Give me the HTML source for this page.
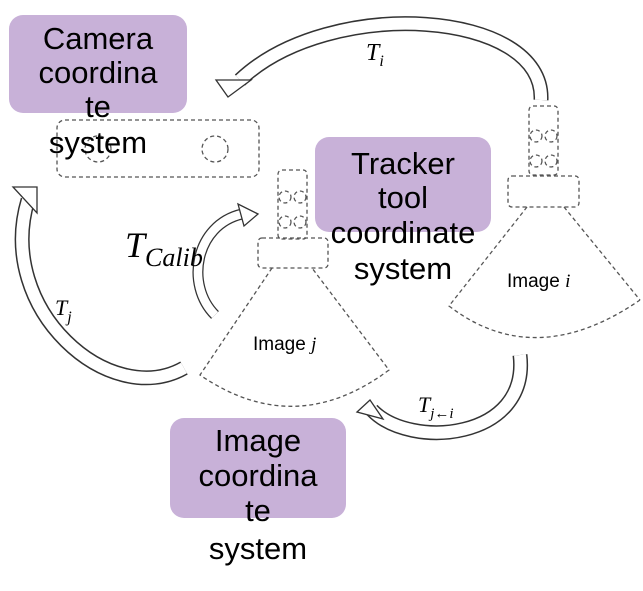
<!DOCTYPE html>
<html><head><meta charset="utf-8"><style>
html,body{margin:0;padding:0;background:#fff;}
svg{display:block;}
.lbl{font-family:"Liberation Sans",sans-serif;font-size:31px;fill:#000;text-anchor:middle;}
.m{font-family:"Liberation Serif",serif;font-style:italic;fill:#000;}
.d{fill:none;stroke:#555;stroke-width:1.3;stroke-dasharray:4 3;}
</style></head><body>
<svg width="643" height="591" viewBox="0 0 643 591" xmlns="http://www.w3.org/2000/svg">
<rect x="9" y="15" width="178" height="98" rx="14" fill="#c8b1d8"/>
<rect x="315" y="137" width="176" height="95" rx="14" fill="#c8b1d8"/>
<rect x="170" y="418" width="176" height="100" rx="14" fill="#c8b1d8"/>

<rect x="57" y="120" width="202" height="57" rx="8" class="d"/>
<circle cx="98" cy="149" r="13" class="d"/>
<circle cx="215" cy="149" r="13" class="d"/>

<rect x="529" y="106" width="29" height="69" rx="4" class="d"/>
<circle cx="536" cy="136" r="6" class="d"/><circle cx="551" cy="136" r="6" class="d"/>
<circle cx="536" cy="161" r="6" class="d"/><circle cx="551" cy="161" r="6" class="d"/>
<rect x="508" y="176" width="71" height="31" rx="4" class="d"/>
<path d="M527,207 L449,306 Q535,372 640,300 M564,207 L640,300" class="d"/>
<text x="507" y="287" font-family="Liberation Sans,sans-serif" font-size="19">Image <tspan font-family="Liberation Serif,serif" font-style="italic">i</tspan></text>

<rect x="278" y="170" width="29" height="69" rx="4" class="d"/>
<circle cx="285" cy="197" r="6" class="d"/><circle cx="300" cy="197" r="6" class="d"/>
<circle cx="285" cy="222" r="6" class="d"/><circle cx="300" cy="222" r="6" class="d"/>
<rect x="258" y="238" width="70" height="30" rx="4" class="d"/>
<path d="M272,268 L200,375 Q295,440 389,370 L312,268" class="d"/>
<text x="253" y="350" font-family="Liberation Sans,sans-serif" font-size="19">Image <tspan font-family="Liberation Serif,serif" font-style="italic">j</tspan></text>

<g fill="none" stroke-linecap="butt">
 <path d="M541,100 C545,10 330,-5 240,80" stroke="#333" stroke-width="15"/>
 <path d="M541,100 C545,10 330,-5 240,80" stroke="#fff" stroke-width="12"/>
 <path d="M184,368 C110,410 -5,310 28,200" stroke="#333" stroke-width="15"/>
 <path d="M184,368 C110,410 -5,310 28,200" stroke="#fff" stroke-width="12"/>
 <path d="M215,315 C185,285 195,225 242,214" stroke="#333" stroke-width="11"/>
 <path d="M215,315 C185,285 195,225 242,214" stroke="#fff" stroke-width="8.5"/>
 <path d="M520,355 C530,440 410,450 372,410" stroke="#333" stroke-width="15"/>
 <path d="M520,355 C530,440 410,450 372,410" stroke="#fff" stroke-width="12"/>
</g>
<polygon points="228,97 216,80 251,80" fill="#fff" stroke="#333" stroke-width="1.3"/>
<polygon points="13,187 37,187 37,213" fill="#fff" stroke="#333" stroke-width="1.3"/>
<polygon points="258,214 238,204 244,226" fill="#fff" stroke="#333" stroke-width="1.3"/>
<polygon points="357,412 370,400 383,419" fill="#fff" stroke="#333" stroke-width="1.3"/>

<text x="366" y="60" class="m" font-size="24">T<tspan font-size="16" dy="6">i</tspan></text>
<text x="55" y="315" class="m" font-size="22">T<tspan font-size="16" dy="7">j</tspan></text>
<text x="125" y="257" class="m" font-size="36">T<tspan font-size="26" dy="9">Calib</tspan></text>
<text x="418" y="412" class="m" font-size="22">T<tspan font-size="15" dy="6">j←i</tspan></text>

<text class="lbl" x="98" y="49">Camera</text>
<text class="lbl" x="98" y="83">coordina</text>
<text class="lbl" x="98" y="117">te</text>
<text class="lbl" x="98" y="153">system</text>

<text class="lbl" x="403" y="174">Tracker</text>
<text class="lbl" x="403" y="208">tool</text>
<text class="lbl" x="403" y="243">coordinate</text>
<text class="lbl" x="403" y="279">system</text>

<text class="lbl" x="258" y="451">Image</text>
<text class="lbl" x="258" y="486">coordina</text>
<text class="lbl" x="258" y="521">te</text>
<text class="lbl" x="258" y="559">system</text>
</svg>
</body></html>
